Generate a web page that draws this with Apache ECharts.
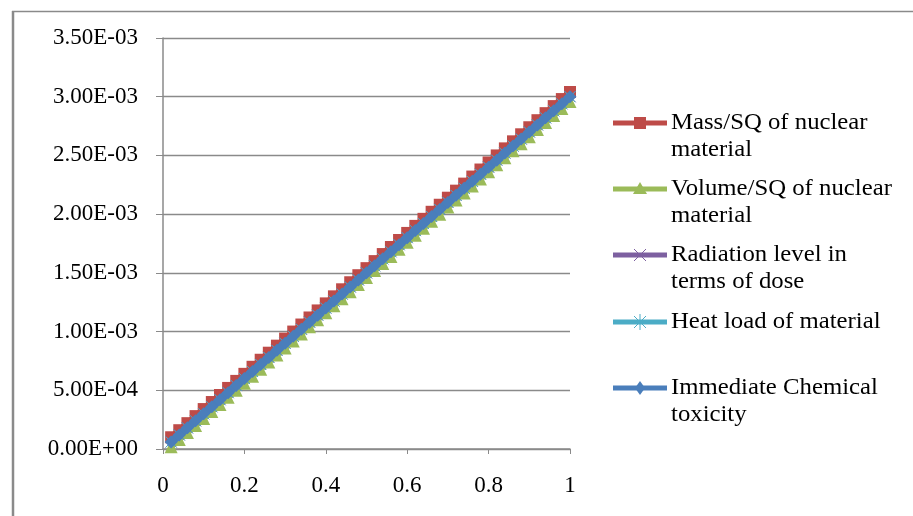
<!DOCTYPE html>
<html>
<head>
<meta charset="utf-8">
<script src="https://cdn.jsdelivr.net/npm/echarts@6/dist/echarts.min.js"></script>
<style>
  html, body { margin: 0; padding: 0; background: #ffffff; }
  #chart { width: 913px; height: 516px; }
</style>
</head>
<body>
<div id="chart"></div>
<script>
// Fraction of material (x) against the attractiveness measure of each criterion
const fraction = [0.02,0.04,0.06,0.08,0.10,0.12,0.14,0.16,0.18,0.20,0.22,0.24,0.26,0.28,0.30,0.32,0.34,0.36,0.38,0.40,0.42,0.44,0.46,0.48,0.50,0.52,0.54,0.56,0.58,0.60,0.62,0.64,0.66,0.68,0.70,0.72,0.74,0.76,0.78,0.80,0.82,0.84,0.86,0.88,0.90,0.92,0.94,0.96,0.98,1.00];

const massSQ = [0.000100,0.000160,0.000220,0.000280,0.000340,0.000400,0.000460,0.000520,0.000580,0.000640,0.000700,0.000760,0.000820,0.000880,0.000940,0.001000,0.001060,0.001120,0.001180,0.001240,0.001300,0.001360,0.001420,0.001480,0.001540,0.001600,0.001660,0.001720,0.001780,0.001840,0.001900,0.001960,0.002020,0.002080,0.002140,0.002200,0.002260,0.002320,0.002380,0.002440,0.002500,0.002560,0.002620,0.002680,0.002740,0.002800,0.002860,0.002920,0.002980,0.003040];

const volumeSQ = [0.000020,0.000080,0.000140,0.000200,0.000260,0.000320,0.000380,0.000440,0.000500,0.000560,0.000620,0.000680,0.000740,0.000800,0.000860,0.000920,0.000980,0.001040,0.001100,0.001160,0.001220,0.001280,0.001340,0.001400,0.001460,0.001520,0.001580,0.001640,0.001700,0.001760,0.001820,0.001880,0.001940,0.002000,0.002060,0.002120,0.002180,0.002240,0.002300,0.002360,0.002420,0.002480,0.002540,0.002600,0.002660,0.002720,0.002780,0.002840,0.002900,0.002960];

const radiationDose = [0.00006,0.00012,0.00018,0.00024,0.00030,0.00036,0.00042,0.00048,0.00054,0.00060,0.00066,0.00072,0.00078,0.00084,0.00090,0.00096,0.00102,0.00108,0.00114,0.00120,0.00126,0.00132,0.00138,0.00144,0.00150,0.00156,0.00162,0.00168,0.00174,0.00180,0.00186,0.00192,0.00198,0.00204,0.00210,0.00216,0.00222,0.00228,0.00234,0.00240,0.00246,0.00252,0.00258,0.00264,0.00270,0.00276,0.00282,0.00288,0.00294,0.00300];

const heatLoad = [0.00006,0.00012,0.00018,0.00024,0.00030,0.00036,0.00042,0.00048,0.00054,0.00060,0.00066,0.00072,0.00078,0.00084,0.00090,0.00096,0.00102,0.00108,0.00114,0.00120,0.00126,0.00132,0.00138,0.00144,0.00150,0.00156,0.00162,0.00168,0.00174,0.00180,0.00186,0.00192,0.00198,0.00204,0.00210,0.00216,0.00222,0.00228,0.00234,0.00240,0.00246,0.00252,0.00258,0.00264,0.00270,0.00276,0.00282,0.00288,0.00294,0.00300];

const chemicalToxicity = [0.00006,0.00012,0.00018,0.00024,0.00030,0.00036,0.00042,0.00048,0.00054,0.00060,0.00066,0.00072,0.00078,0.00084,0.00090,0.00096,0.00102,0.00108,0.00114,0.00120,0.00126,0.00132,0.00138,0.00144,0.00150,0.00156,0.00162,0.00168,0.00174,0.00180,0.00186,0.00192,0.00198,0.00204,0.00210,0.00216,0.00222,0.00228,0.00234,0.00240,0.00246,0.00252,0.00258,0.00264,0.00270,0.00276,0.00282,0.00288,0.00294,0.00300];

const seriesNames = [
  'Mass/SQ of nuclear material',
  'Volume/SQ of nuclear material',
  'Radiation level in terms of dose',
  'Heat load of material',
  'Immediate Chemical toxicity'
];
// Legend text, broken over lines
const legendLines = [
  ['Mass/SQ of nuclear', 'material'],
  ['Volume/SQ of nuclear', 'material'],
  ['Radiation level in', 'terms of dose'],
  ['Heat load of material'],
  ['Immediate Chemical', 'toxicity']
];

const yMin = 0, yMax = 0.0035, yStep = 0.0005;
const xMin = 0, xMax = 1, xStep = 0.2;

const colors = ['#BE4B48', '#9BBB59', '#7D60A0', '#4BACC6', '#4A7EBB'];
const FONT = '"Liberation Serif", "Times New Roman", serif';

function sci(v) {
  const s = Math.abs(v) < 1e-12 ? '0.00e+0' : v.toExponential(2);
  const parts = s.split('e');
  const exp = parseInt(parts[1], 10);
  const sign = exp < 0 ? '-' : '+';
  const mag = String(Math.abs(exp)).padStart(2, '0');
  return parts[0] + 'E' + sign + mag;
}

function pairs(ys) {
  return fraction.map((x, i) => [x, ys[i]]);
}

const crossPath = 'path://M0,0L10,10M10,0L0,10';
const starPath = 'path://M0,0L10,10M10,0L0,10M5,0L5,10';

const seriesDefs = [
  { data: massSQ, symbol: 'rect', size: 12, width: 6 },
  { data: volumeSQ, symbol: 'triangle', size: 13, width: 6 },
  { data: radiationDose, symbol: crossPath, size: 11, stroked: true, width: 6 },
  { data: heatLoad, symbol: starPath, size: 11, stroked: true, width: 6 },
  { data: chemicalToxicity, symbol: 'diamond', size: 13, width: 8 }
];

const series = seriesDefs.map((d, i) => ({
  name: seriesNames[i],
  type: 'line',
  data: pairs(d.data),
  symbol: d.symbol,
  symbolSize: d.size,
  showAllSymbol: true,
  lineStyle: { color: colors[i], width: d.width },
  itemStyle: d.stroked
    ? { color: 'rgba(0,0,0,0)', borderColor: colors[i], borderWidth: 1 }
    : { color: colors[i], borderWidth: 0 },
  emphasis: { disabled: true },
  z: 2 + i
}));

// Legend drawn on the right: line + marker + wrapped text
const legendCenters = [123, 189, 255, 322, 388];
const iconX1 = 613, iconX2 = 667, iconMid = 640, textX = 671, lineGap = 27;
const legendGraphics = [];
legendCenters.forEach((cy, i) => {
  const c = colors[i];
  legendGraphics.push({
    type: 'line', shape: { x1: iconX1, y1: cy, x2: iconX2, y2: cy },
    style: { stroke: c, lineWidth: 5 }
  });
  if (i === 0) {
    legendGraphics.push({ type: 'rect', shape: { x: iconMid - 6, y: cy - 6, width: 12, height: 12 }, style: { fill: c } });
  } else if (i === 1) {
    legendGraphics.push({ type: 'polygon', shape: { points: [[iconMid, cy - 7], [iconMid + 7, cy + 5], [iconMid - 7, cy + 5]] }, style: { fill: c } });
  } else if (i === 2) {
    legendGraphics.push({ type: 'polyline', shape: { points: [[iconMid - 6, cy - 6], [iconMid + 6, cy + 6]] }, style: { stroke: c, lineWidth: 1, fill: null } });
    legendGraphics.push({ type: 'polyline', shape: { points: [[iconMid + 6, cy - 6], [iconMid - 6, cy + 6]] }, style: { stroke: c, lineWidth: 1, fill: null } });
  } else if (i === 3) {
    legendGraphics.push({ type: 'polyline', shape: { points: [[iconMid - 6, cy - 6], [iconMid + 6, cy + 6]] }, style: { stroke: c, lineWidth: 1, fill: null } });
    legendGraphics.push({ type: 'polyline', shape: { points: [[iconMid + 6, cy - 6], [iconMid - 6, cy + 6]] }, style: { stroke: c, lineWidth: 1, fill: null } });
    legendGraphics.push({ type: 'polyline', shape: { points: [[iconMid, cy - 8], [iconMid, cy + 8]] }, style: { stroke: c, lineWidth: 1, fill: null } });
  } else {
    legendGraphics.push({ type: 'polygon', shape: { points: [[iconMid, cy - 7], [iconMid + 5, cy], [iconMid, cy + 7], [iconMid - 5, cy]] }, style: { fill: c } });
  }
  legendLines[i].forEach((t, k) => {
    legendGraphics.push({
      type: 'text',
      x: textX, y: cy + k * lineGap,
      scaleX: 1.1, scaleY: 1,
      style: {
        text: t, x: 0, y: 0,
        font: '22.5px ' + FONT, fill: '#000000',
        align: 'left', verticalAlign: 'middle'
      }
    });
  });
});

// Outer chart frame (left and top edges)
const frameGraphics = [
  { type: 'line', shape: { x1: 13, y1: 11, x2: 13, y2: 516 }, style: { stroke: '#8a8a8a', lineWidth: 2.5 } },
  { type: 'line', shape: { x1: 12, y1: 11.5, x2: 913, y2: 11.5 }, style: { stroke: '#8a8a8a', lineWidth: 1.5 } }
];

const chart = echarts.init(document.getElementById('chart'), null, { renderer: 'canvas' });
chart.setOption({
  animation: false,
  backgroundColor: '#ffffff',
  grid: { left: 163, top: 38, width: 407, height: 411, containLabel: false },
  xAxis: {
    type: 'value', min: xMin, max: xMax, interval: xStep,
    axisLine: { show: true, lineStyle: { color: '#8a8a8a', width: 1.5 } },
    axisTick: { show: true, inside: false, length: 5, lineStyle: { color: '#8a8a8a', width: 1 } },
    splitLine: { show: false },
    axisLabel: {
      margin: 25, color: '#000000', fontFamily: FONT, fontSize: 23,
      formatter: v => String(Math.round(v * 10) / 10)
    }
  },
  yAxis: {
    type: 'value', min: yMin, max: yMax, interval: yStep,
    axisLine: { show: true, lineStyle: { color: '#8a8a8a', width: 1.5 } },
    axisTick: { show: true, inside: false, length: 7, lineStyle: { color: '#8a8a8a', width: 1 } },
    splitLine: { show: true, lineStyle: { color: '#8a8a8a', width: 1.3 } },
    axisLabel: {
      margin: 25, color: '#000000', fontFamily: FONT, fontSize: 23,
      formatter: v => sci(v)
    }
  },
  series: series,
  graphic: frameGraphics.concat(legendGraphics)
});
</script>
</body>
</html>
